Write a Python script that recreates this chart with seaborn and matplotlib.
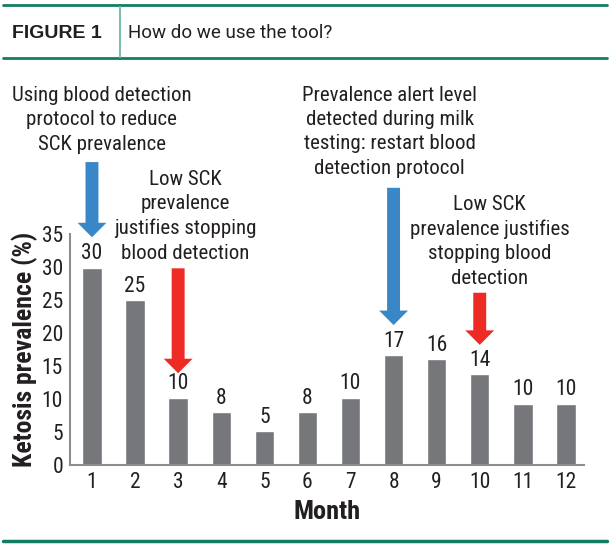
import matplotlib
matplotlib.use("Agg")
import matplotlib.pyplot as plt
from matplotlib.lines import Line2D
from matplotlib import font_manager
import pandas as pd
import seaborn as sns

# data
months = ["1", "2", "3", "4", "5", "6", "7", "8", "9", "10", "11", "12"]
prevalence = [29.9, 25.0, 10.2, 8.0, 5.1, 8.0, 10.2, 16.6, 16.0, 13.8, 9.3, 9.3]
bar_labels = ["30", "25", "10", "8", "5", "8", "10", "17", "16", "14", "10", "10"]

notes = [
    "Using blood detection\nprotocol to reduce\nSCK prevalence",
    "Low SCK\nprevalence\njustifies stopping\nblood detection",
    "Prevalence alert level\ndetected during milk\ntesting: restart blood\ndetection protocol",
    "Low SCK\nprevalence justifies\nstopping blood\ndetection",
]
note_x = [0.23, 2.17, 6.91, 9.23]
note_y = [52.3, 37.7, 50.5, 33.9]
# arrows: (month index, tail, tip, colour)
arrows = [
    (0, 45.9, 34.5, "#3a87c8"),
    (2, 29.8, 13.9, "#ee2a24"),
    (7, 42.0, 21.2, "#3a87c8"),
    (9, 26.1, 18.2, "#ee2a24"),
]

df = pd.DataFrame({"Month": months, "Prevalence": prevalence})

sns.set_style("white")
# pick the narrowest family that is actually installed
installed = {f.name for f in font_manager.fontManager.ttflist}
narrow = [f for f in ["Roboto Condensed", "Liberation Sans Narrow",
                      "DejaVu Sans Condensed", "Open Sans Condensed",
                      "Liberation Sans"] if f in installed]
plt.rcParams["font.family"] = narrow[:1] + ["DejaVu Sans"]
if "DejaVu Sans Condensed" in narrow[:1]:
    plt.rcParams["font.stretch"] = "condensed"
txt = "#231f20"
teal = "#127d62"

fig = plt.figure(figsize=(6.1, 5.51), dpi=100)
ax = fig.add_axes([70 / 610, 86 / 551, 514 / 610, 231 / 551])

sns.barplot(data=df, x="Month", y="Prevalence", color="#76777b",
            saturation=1, width=0.45, ax=ax)

for i, (v, lab) in enumerate(zip(prevalence, bar_labels)):
    ax.text(i, v + 0.5, lab, ha="center", va="bottom", fontsize=15.5, color=txt)

ax.set_ylim(0, 35)
ax.set_xlim(-0.51, 11.42)
ax.set_yticks(range(0, 36, 5))
ax.tick_params(axis="both", length=0, labelsize=15.5, colors=txt, pad=5)
ax.set_xlabel("Month", fontsize=19, fontweight="bold", color=txt, labelpad=5)
ax.set_ylabel("Ketosis prevalence (%)", fontsize=18.5, fontweight="bold",
              color=txt, labelpad=3)
for s in ["top", "right"]:
    ax.spines[s].set_visible(False)
for s in ["left", "bottom"]:
    ax.spines[s].set_color("#8c8d90")
    ax.spines[s].set_linewidth(1.5)

for (x, tail, tip, col) in arrows:
    ax.arrow(x, tail, 0, tip - tail, width=0.30, head_width=0.67,
             head_length=2.2, length_includes_head=True, color=col,
             linewidth=0, clip_on=False)

for t, x, y in zip(notes, note_x, note_y):
    ax.text(x, y, t, ha="center", va="center", fontsize=15, color=txt,
            linespacing=1.36, clip_on=False)

# header band
fig.add_artist(Line2D([3 / 610, 607 / 610], [1 - 5 / 551] * 2, color=teal, lw=2))
fig.add_artist(Line2D([3 / 610, 607 / 610], [1 - 58 / 551] * 2, color=teal, lw=2))
fig.add_artist(Line2D([120.5 / 610] * 2, [1 - 7 / 551, 1 - 57 / 551],
                      color="#7fbcae", lw=1.5))
fig.add_artist(Line2D([3 / 610, 607 / 610], [1 - 541 / 551] * 2, color=teal, lw=2.5))
fig.text(12 / 610, 1 - 33 / 551, "FIGURE 1", ha="left", va="center",
         fontsize=14, fontweight="bold", color=txt,
         family=["Liberation Sans", "DejaVu Sans"])
fig.text(128 / 610, 1 - 33 / 551, "How do we use the tool?", ha="left",
         va="center", fontsize=13.5, color=txt, family=["Roboto", "DejaVu Sans"])

fig.savefig("out.png", dpi=100)
